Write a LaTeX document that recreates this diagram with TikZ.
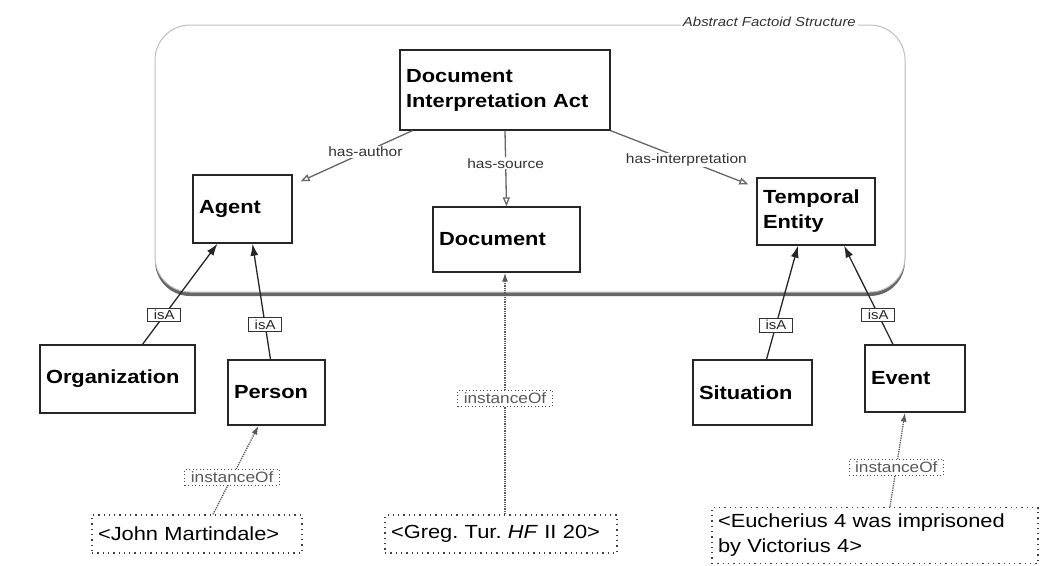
\documentclass[tikz,border=0pt]{standalone}
\usepackage{fontspec}
\setmainfont{Liberation Sans}[FakeStretch=1.15]
\usepackage{tikz}
\usetikzlibrary{arrows.meta,shadows}
\frenchspacing

\begin{document}
\begin{tikzpicture}[x=1pt,y=-1pt,
  container/.style={draw=black!25, line width=1pt, fill=white, rounded corners=35pt,
    drop shadow={shadow xshift=0pt, shadow yshift=-4pt, fill=black!75, opacity=0.8}},
  title/.style={fill=white, inner sep=2pt, font=\fontsize{13}{15}\selectfont\itshape, text=black!80},
  cls/.style={draw=black!85, line width=1.3pt, fill=white, align=left, inner xsep=6pt, inner ysep=0pt,
    font=\fontsize{19}{25}\selectfont\bfseries},
  inst/.style={draw=black!75, line width=1.3pt, dash pattern=on 1.3pt off 4pt, fill=white, align=left,
    inner xsep=6pt, inner ysep=0pt, font=\fontsize{19}{25}\selectfont},
  lbl/.style={fill=white, inner sep=1pt, font=\fontsize{13.5}{15}\selectfont, text=black!80},
  isa/.style={draw=black!80, line width=0.9pt, fill=white, inner xsep=6pt, inner ysep=2pt,
    font=\fontsize{13}{14}\selectfont},
  instof/.style={draw=black!70, line width=1pt, dash pattern=on 1pt off 2.5pt, fill=white,
    inner xsep=6pt, inner ysep=2.5pt, font=\fontsize{15}{16}\selectfont},
  hasrel/.style={color=black!60, line width=1.3pt, -{Triangle[open, length=9pt, width=7pt]}},
  isarel/.style={color=black!85, line width=1.3pt, -{Latex[length=12pt, width=8pt]}},
  instrel/.style={color=black!65, line width=1.3pt, densely dotted, -{Latex[length=9pt, width=6pt]}}]

  \useasboundingbox (0,0) rectangle (1040,565);

  \node[container, minimum width=750, minimum height=267] (afs) at (530,158.5) {};
  \node[title, anchor=east] (afstitle) at (858,22) {Abstract Factoid Structure};

  \node[cls, text width=198, minimum height=80] (dia) at (505,90) {Document\\Interpretation Act};
  \node[cls, text width=87, minimum height=68] (agent) at (242.5,209) {Agent};
  \node[cls, text width=135, minimum height=65] (doc) at (506.5,239.5) {Document};
  \node[cls, text width=106, minimum height=67] (temp) at (816,211.5) {Temporal\\Entity};
  \node[cls, text width=143, minimum height=68] (org) at (117.5,379) {Organization};
  \node[cls, text width=85, minimum height=65] (person) at (276.5,392.5) {Person};
  \node[cls, text width=107, minimum height=65] (sit) at (752.5,392.5) {Situation};
  \node[cls, text width=88, minimum height=67] (event) at (915,378.5) {Event};

  \node[inst, text width=198, minimum height=38] (john) at (197,534) {<John Martindale>};
  \node[inst, text width=220, minimum height=38] (greg) at (501,534) {<Greg. Tur. \emph{HF} II 20>};
  \node[inst, text width=314, minimum height=56] (euch) at (875,535.5) {<Eucherius 4 was imprisoned\\by Victorius 4>};

  \path[hasrel]
  ([xshift=13pt]dia.south west) edge node[lbl, pos=0.42] {has-author} ([shift={(8pt,-7pt)}]agent.north east)
  (dia.south) edge node[lbl, pos=0.43] {has-source} (doc.north)
  (dia.south east) edge node[lbl, pos=0.55] {has-interpretation} ([shift={(-8pt,-7pt)}]temp.north west)
  ;
  \path[isarel]
  ([xshift=25pt]org.north) edge node[isa, pos=0.29] {isA} ([xshift=-25pt]agent.south)
  ([xshift=-6pt]person.north) edge node[isa, pos=0.3] {isA} ([xshift=10pt]agent.south)
  ([xshift=14pt]sit.north) edge node[isa, pos=0.3] {isA} ([xshift=-18pt]temp.south)
  ([xshift=-22pt]event.north) edge node[isa, pos=0.3] {isA} ([xshift=28pt]temp.south)
  ;
  \path[instrel]
  ([xshift=16pt]john.north) edge node[instof, pos=0.42] {instanceOf} ([xshift=-18pt]person.south)
  ([xshift=4pt]greg.north) edge node[instof, pos=0.48] {instanceOf} ([xshift=-1.5pt]doc.south)
  ([xshift=15pt]euch.north) edge node[instof, pos=0.42] {instanceOf} ([xshift=-10pt]event.south)
  ;
\end{tikzpicture}
\end{document}
